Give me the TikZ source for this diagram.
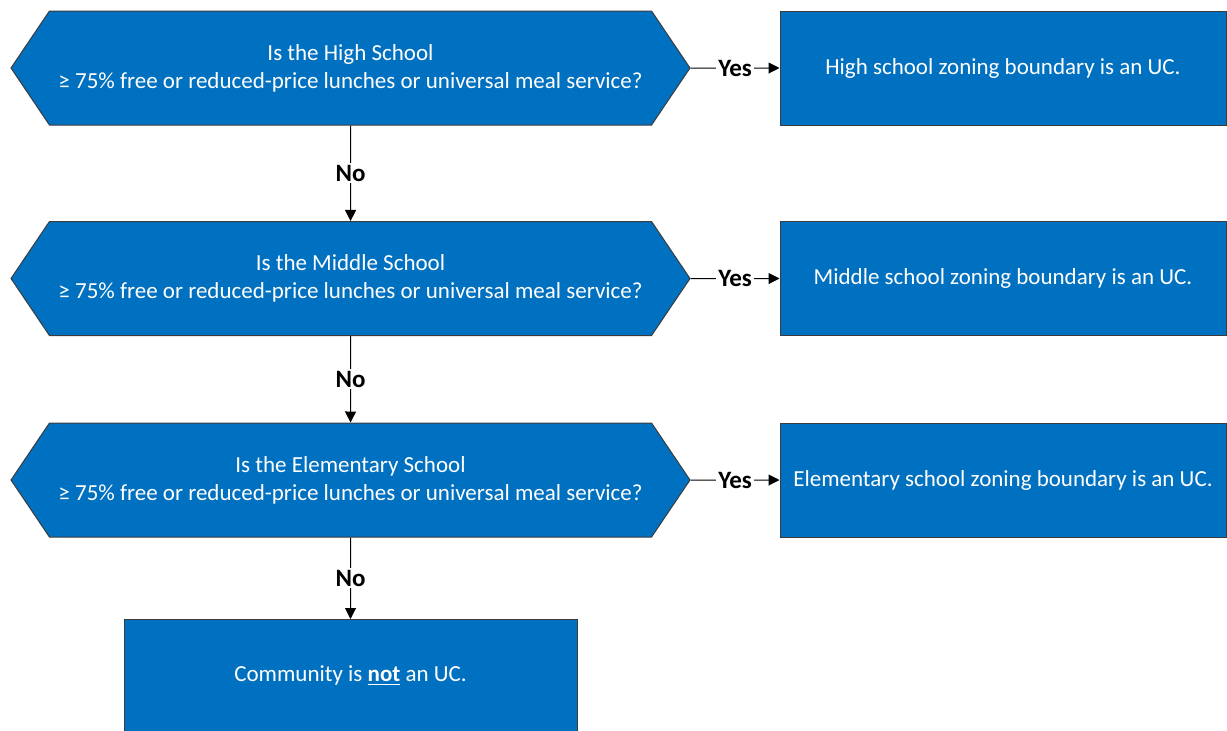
\documentclass[tikz,border=0pt]{standalone}
\usepackage{fontspec}
\setmainfont{Carlito}
\usetikzlibrary{shapes.symbols,arrows.meta}
\definecolor{boxblue}{RGB}{0,112,192}
\definecolor{edgegray}{RGB}{60,60,60}
\begin{document}
\begin{tikzpicture}[x=0.5pt, y=-0.5pt, >={Triangle[length=5.5pt,width=5.5pt]}, line width=0.5pt,
  question/.style={signal, signal to=west and east, signal pointer angle=112, draw=edgegray, fill=boxblue,
    text=white, minimum width=339.5pt, minimum height=57pt, inner sep=0pt, align=center,
    font=\fontsize{11.5}{14}\selectfont},
  result/.style={rectangle, draw=edgegray, fill=boxblue, text=white, minimum width=223pt,
    minimum height=57pt, inner sep=0pt, align=center, font=\fontsize{11.5}{14}\selectfont},
  answer/.style={fill=white, inner sep=1pt, font=\fontsize{12.5}{14}\selectfont\bfseries}]
\useasboundingbox (0,0) rectangle (1227,730);
\clip (0,0) rectangle (1227,730);

\node[question] (high) at (350.5,68) {Is the High School\\≥ 75\% free or reduced-price lunches or universal meal service?};
\node[question] (middle) at (350.5,278.5) {Is the Middle School\\≥ 75\% free or reduced-price lunches or universal meal service?};
\node[question] (elem) at (350.5,480) {Is the Elementary School\\≥ 75\% free or reduced-price lunches or universal meal service?};

\node[result] (highuc) at (1003,68) {High school zoning boundary is an UC.};
\node[result] (middleuc) at (1003,278.5) {Middle school zoning boundary is an UC.};
\node[result] (elemuc) at (1003,480) {Elementary school zoning boundary is an UC.};
% box runs past the lower edge of the page
\node[result, minimum width=226.5pt, minimum height=0pt, text height=31pt, text depth=45pt, anchor=north]
  (notuc) at (350.5,619) {Community is \underline{\textbf{not}} an UC.};

\draw[->] (high) -- node[answer]{Yes} (highuc);
\draw[->] (middle) -- node[answer]{Yes} (middleuc);
\draw[->] (elem) -- node[answer]{Yes} (elemuc);
\draw[->] (high) -- node[answer]{No} (middle);
\draw[->] (middle) -- node[answer]{No} (elem);
\draw[->] (elem) -- node[answer]{No} (notuc);
\end{tikzpicture}
\end{document}
